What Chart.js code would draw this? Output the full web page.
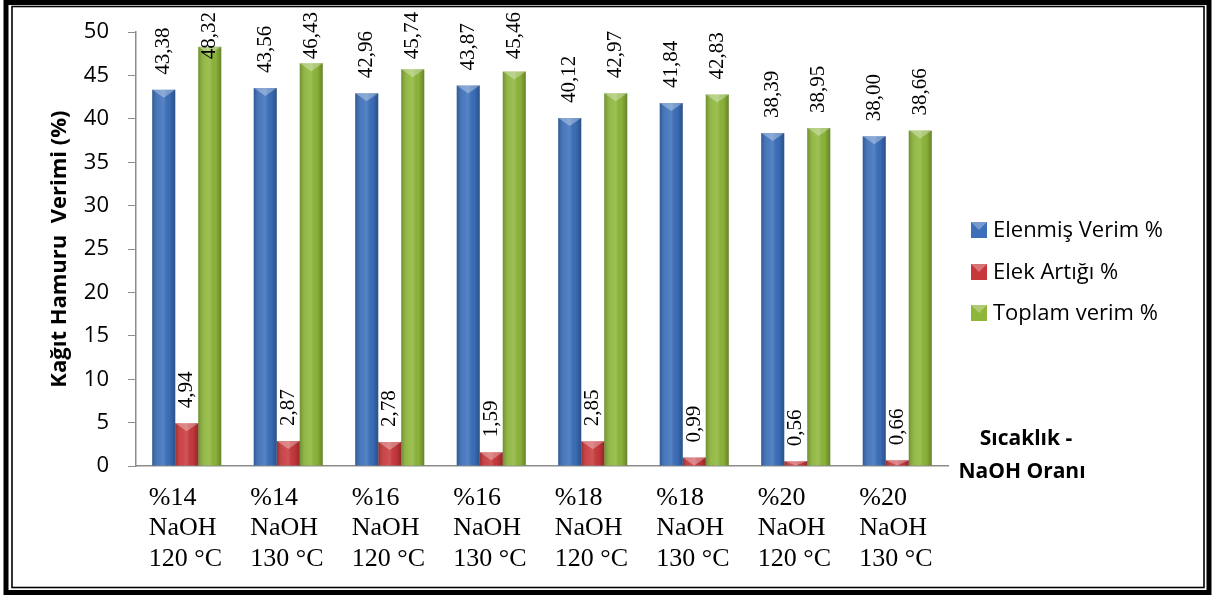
<!DOCTYPE html>
<html>
<head>
<meta charset="utf-8">
<script src="https://cdn.jsdelivr.net/npm/chart.js@4.4.1/dist/chart.umd.min.js"></script>
<style>
  html, body { margin: 0; padding: 0; background: #fff; }
  #wrap { width: 1215px; height: 597px; position: relative; }
</style>
</head>
<body>
<div id="wrap"><canvas id="myChart"></canvas></div>
<script>
// data
const categories = [
    ['%14', 'NaOH', '120 °C'],
    ['%14', 'NaOH', '130 °C'],
    ['%16', 'NaOH', '120 °C'],
    ['%16', 'NaOH', '130 °C'],
    ['%18', 'NaOH', '120 °C'],
    ['%18', 'NaOH', '130 °C'],
    ['%20', 'NaOH', '120 °C'],
    ['%20', 'NaOH', '130 °C']
];
const elenmisVerim = [43.38, 43.56, 42.96, 43.87, 40.12, 41.84, 38.39, 38.00];
const elekArtigi = [4.94, 2.87, 2.78, 1.59, 2.85, 0.99, 0.56, 0.66];
const toplamVerim = [48.32, 46.43, 45.74, 45.46, 42.97, 42.83, 38.95, 38.66];
const seriesNames = ['Elenmiş Verim %', 'Elek Artığı %', 'Toplam verim %'];
const yTicks = [0, 5, 10, 15, 20, 25, 30, 35, 40, 45, 50];

const colors = ['#3b6fba', '#c8383b', '#8db63a'];
const axisGray = '#8c8c8c';
const sans = '"Open Sans", sans-serif';
const serif = '"Liberation Serif", "Times New Roman", serif';

function fmt(v) {
    return v.toFixed(2).replace('.', ',');
}

// shading + bevel on top of the flat bars, then the rotated value labels
const barDecor = {
    id: 'barDecor',
    afterDatasetsDraw(chart) {
        const c = chart.ctx;
        chart.data.datasets.forEach((ds, di) => {
            const meta = chart.getDatasetMeta(di);
            meta.data.forEach((bar, i) => {
                const p = bar.getProps(['x', 'y', 'base', 'width'], true);
                const left = p.x - p.width / 2;
                const h = p.base - p.y;
                const g = c.createLinearGradient(left, 0, left + p.width, 0);
                g.addColorStop(0, 'rgba(0,0,0,0.22)');
                g.addColorStop(0.3, 'rgba(255,255,255,0.08)');
                g.addColorStop(0.5, 'rgba(255,255,255,0.14)');
                g.addColorStop(0.75, 'rgba(0,0,0,0.02)');
                g.addColorStop(1, 'rgba(0,0,0,0.28)');
                c.save();
                c.fillStyle = g;
                c.fillRect(left, p.y, p.width, h);
                // bevel at the top
                const bh = Math.min(8, h);
                c.beginPath();
                c.moveTo(left, p.y);
                c.lineTo(left + p.width, p.y);
                c.lineTo(p.x, p.y + bh);
                c.closePath();
                c.fillStyle = 'rgba(255,255,255,0.32)';
                c.fill();
                c.restore();

                // value label
                const txt = fmt(ds.data[i]);
                c.save();
                c.font = '21px ' + serif;
                const tw = c.measureText(txt).width;
                let anchor = p.y - 15;
                if (anchor - tw < 12) anchor = 12 + tw;
                c.translate(p.x, anchor);
                c.rotate(-Math.PI / 2);
                c.fillStyle = '#000';
                c.textAlign = 'left';
                c.textBaseline = 'middle';
                c.fillText(txt, 0, 0);
                c.restore();
            });
        });
    },
    afterDraw(chart) {
        const c = chart.ctx;
        c.save();
        // legend
        c.font = '22px ' + sans;
        c.textBaseline = 'middle';
        c.textAlign = 'left';
        const ly = [230, 272, 313];
        seriesNames.forEach((name, i) => {
            c.fillStyle = colors[i];
            c.fillRect(971, ly[i] - 8, 16, 16);
            c.beginPath();
            c.moveTo(971, ly[i] - 8);
            c.lineTo(987, ly[i] - 8);
            c.lineTo(979, ly[i]);
            c.closePath();
            c.fillStyle = 'rgba(255,255,255,0.3)';
            c.fill();
            c.fillStyle = '#000';
            c.fillText(name, 993, ly[i] + 1);
        });
        // x axis title
        c.font = 'bold 21px ' + sans;
        c.textAlign = 'center';
        c.fillText('Sıcaklık -', 1026, 439);
        c.fillText('NaOH Oranı', 1022, 472);
        // frame
        c.strokeStyle = '#000';
        c.lineWidth = 5;
        c.strokeRect(6, 2.5, 1203, 590);
        c.lineWidth = 1.6;
        c.strokeRect(12, 6.5, 1192, 581);
        c.restore();
    }
};

const ctx = document.getElementById('myChart');

const myChart = new Chart(ctx, {
    type: 'bar',
    data: {
        labels: categories,
        datasets: [
            { label: seriesNames[0], data: elenmisVerim, backgroundColor: colors[0] },
            { label: seriesNames[1], data: elekArtigi, backgroundColor: colors[1] },
            { label: seriesNames[2], data: toplamVerim, backgroundColor: colors[2] }
        ]
    },
    options: {
        responsive: true,
        maintainAspectRatio: false,
        animation: false,
        devicePixelRatio: 1,
        datasets: {
            bar: { categoryPercentage: 0.68, barPercentage: 1.0 }
        },
        layout: {
            padding: { left: 16, right: 267, top: 28, bottom: 0 }
        },
        plugins: {
            legend: { display: false },
            tooltip: { enabled: false }
        },
        scales: {
            x: {
                grid: { display: false, drawTicks: false },
                border: { display: true, color: axisGray, width: 1.5 },
                ticks: {
                    color: '#000',
                    font: { family: serif, size: 26, lineHeight: 1.17 },
                    align: 'start',
                    labelOffset: -38,
                    padding: 17,
                    maxRotation: 0,
                    autoSkip: false
                },
                afterFit(scale) { scale.height = 131; }
            },
            y: {
                min: 0,
                max: 50,
                afterBuildTicks(scale) { scale.ticks = yTicks.map(v => ({ value: v })); },
                grid: { drawOnChartArea: false, drawTicks: true, tickLength: 8, color: axisGray },
                border: { display: true, color: axisGray, width: 1.5 },
                ticks: {
                    color: '#000',
                    font: { family: sans, size: 22 },
                    padding: 19
                },
                title: {
                    display: true,
                    text: 'Kağıt Hamuru  Verimi (%)',
                    color: '#000',
                    font: { family: sans, size: 22, weight: 'bold' },
                    padding: { top: 31, bottom: 0 }
                },
                afterFit(scale) { scale.width = 120; }
            }
        }
    },
    plugins: [barDecor]
});
</script>
</body>
</html>
